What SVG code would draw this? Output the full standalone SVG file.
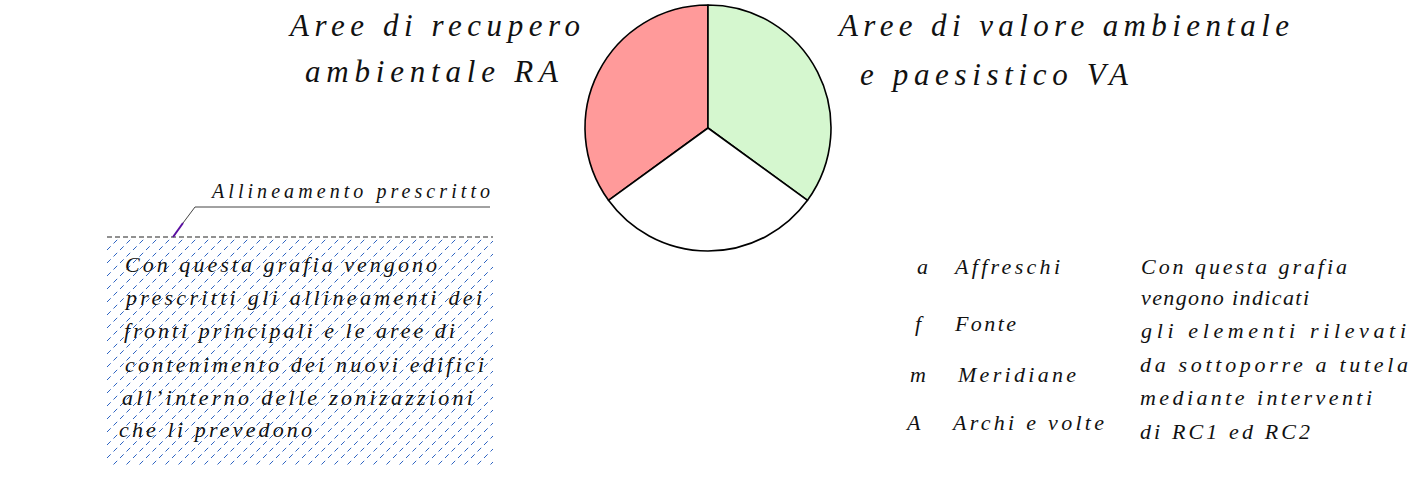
<svg xmlns="http://www.w3.org/2000/svg" width="1427" height="484" viewBox="0 0 1427 484">
<style>
  .t { font-family: "Liberation Serif", "DejaVu Serif", serif; font-style: italic; fill: #111; }
  .title { font-size: 31px; }
  .body { font-size: 22px; }
  .small { font-size: 20px; }
  .slice { stroke: #000; stroke-width: 1.6; stroke-linejoin: round; }
</style>
<defs>
  <pattern id="hatch" patternUnits="userSpaceOnUse" x="107" y="237" width="13" height="13">
    <line x1="0" y1="13" x2="13" y2="0" stroke="#2d63c2" stroke-width="1" stroke-dasharray="5.2 3.99"/>
  </pattern>
</defs>
<rect width="1427" height="484" fill="#fff"/>

<g id="pie">
  <path class="slice" fill="#ff9a9a" d="M708,128 L708,5 A123,123 0 0,0 608.5,200.3 Z"/>
  <path class="slice" fill="#d5f7cf" d="M708,128 L708,5 A123,123 0 0,1 807.5,200.3 Z"/>
  <path class="slice" fill="#ffffff" d="M708,128 L608.5,200.3 A123,123 0 0,0 807.5,200.3 Z"/>
</g>

<g id="label-ra">
  <text class="t title" x="290" y="36" textLength="290" lengthAdjust="spacing">Aree di recupero</text>
  <text class="t title" x="305" y="82" textLength="253" lengthAdjust="spacing">ambientale RA</text>
</g>
<g id="label-va">
  <text class="t title" x="839" y="36" textLength="450" lengthAdjust="spacing">Aree di valore ambientale</text>
  <text class="t title" x="860" y="85" textLength="268" lengthAdjust="spacing">e paesistico VA</text>
</g>

<g id="alignment">
  <rect x="107" y="237" width="386" height="228" fill="url(#hatch)"/>
  <line x1="107" y1="237" x2="493" y2="237" stroke="#222" stroke-width="1" stroke-dasharray="5 3"/>
  <text class="t body" x="125" y="272" textLength="312" lengthAdjust="spacing">Con questa grafia vengono</text>
  <text class="t body" x="126" y="305" textLength="356" lengthAdjust="spacing">prescritti gli allineamenti dei</text>
  <text class="t body" x="124" y="338" textLength="331" lengthAdjust="spacing">fronti principali e le aree di</text>
  <text class="t body" x="125" y="372" textLength="359" lengthAdjust="spacing">contenimento dei nuovi edifici</text>
  <text class="t body" x="122" y="405" textLength="351" lengthAdjust="spacing">all’interno delle zonizazzioni</text>
  <text class="t body" x="119" y="437" textLength="193" lengthAdjust="spacing">che li prevedono</text>
</g>

<g id="connectors">
  <polyline points="490,207 195,207 183,223" fill="none" stroke="#444" stroke-width="1"/>
  <line x1="183" y1="223" x2="173" y2="237" stroke="#5a0fa0" stroke-width="2"/>
</g>
<g id="alignment-label">
  <text class="t small" x="212" y="198" textLength="278" lengthAdjust="spacing">Allineamento prescritto</text>
</g>

<g id="legend">
  <text class="t body" x="917" y="274">a</text>
  <text class="t body" x="955" y="274" textLength="105" lengthAdjust="spacing">Affreschi</text>
  <text class="t body" x="915" y="331">f</text>
  <text class="t body" x="955" y="331" textLength="61" lengthAdjust="spacing">Fonte</text>
  <text class="t body" x="910" y="382">m</text>
  <text class="t body" x="958" y="382" textLength="118" lengthAdjust="spacing">Meridiane</text>
  <text class="t body" x="907" y="430">A</text>
  <text class="t body" x="953" y="430" textLength="151" lengthAdjust="spacing">Archi e volte</text>
</g>

<g id="legend-note">
  <text class="t body" x="1141" y="274" textLength="206" lengthAdjust="spacing">Con questa grafia</text>
  <text class="t body" x="1141" y="305" textLength="168" lengthAdjust="spacing">vengono indicati</text>
  <text class="t body" x="1141" y="338" textLength="265" lengthAdjust="spacing">gli elementi rilevati</text>
  <text class="t body" x="1140" y="372" textLength="268" lengthAdjust="spacing">da sottoporre a tutela</text>
  <text class="t body" x="1140" y="405" textLength="232" lengthAdjust="spacing">mediante interventi</text>
  <text class="t body" x="1140" y="439" textLength="170" lengthAdjust="spacing">di RC1 ed RC2</text>
</g>
</svg>
